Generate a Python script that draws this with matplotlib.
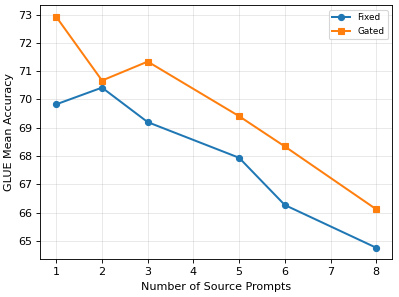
import matplotlib
matplotlib.use("Agg")
import matplotlib.pyplot as plt

# number of source prompts
num_prompts = [1, 2, 3, 5, 6, 8]

# GLUE mean accuracy per setting
fixed_acc = [69.83, 70.42, 69.20, 67.94, 66.27, 64.76]
gated_acc = [72.92, 70.67, 71.34, 69.41, 68.34, 66.12]

fig, ax = plt.subplots(figsize=(4.9875, 3.7125), dpi=80)
fig.subplots_adjust(left=0.101, right=0.983, top=0.982, bottom=0.127)

ax.plot(num_prompts, fixed_acc, marker="o", markersize=5.5, linewidth=1.8, label="Fixed")
ax.plot(num_prompts, gated_acc, marker="s", markersize=5.5, linewidth=1.8, label="Gated")

ax.set_xlabel("Number of Source Prompts")
ax.set_ylabel("GLUE Mean Accuracy")
ax.grid(True, alpha=0.3)
ax.legend(loc="upper right", fontsize=8)

plt.savefig("out.png", dpi=80)
